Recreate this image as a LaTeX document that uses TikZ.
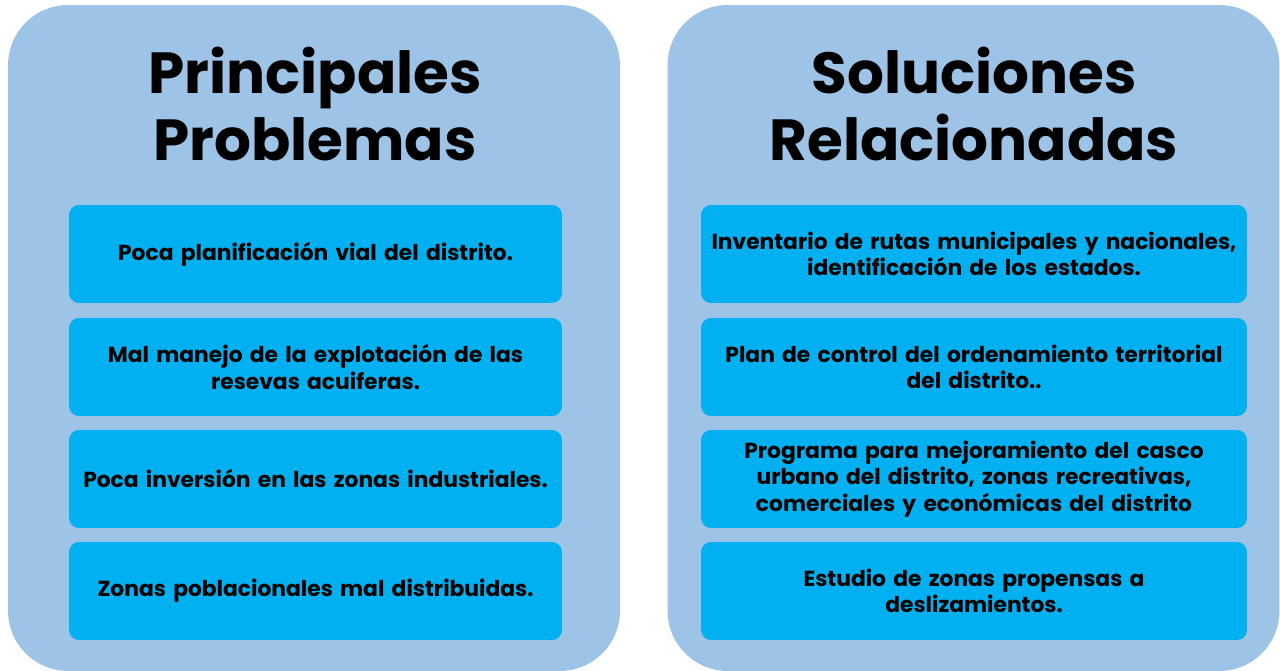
\documentclass[tikz,border=0pt]{standalone}
\usepackage{fontspec}
\setmainfont{Poppins}
\definecolor{panelblue}{HTML}{9DC3E6}
\definecolor{itemcyan}{HTML}{00B0F0}
\begin{document}
\begin{tikzpicture}[x=0.02cm, y=-0.02cm, font=\bfseries, every node/.style={outer sep=0pt},
        panel/.style={fill=panelblue, rounded corners=1.2cm, minimum width=12.24cm, minimum height=13.32cm},
        heading/.style={align=center, font=\fontsize{33}{38.5}\selectfont\bfseries},
        item/.style={fill=itemcyan, rounded corners=0.2cm, minimum height=1.96cm, inner xsep=0.1cm, align=center, font=\fontsize{12.4}{15}\selectfont\bfseries}]
        \useasboundingbox (0,0) rectangle (1280,671);
        \node[panel] (probs) at (314, 338) {};
        \node[panel] (sols) at (973.5, 338) {};
        \node[heading] (probtitle) at (315, 104) {Principales\\Problemas};
        \node[heading] (soltitle) at (974, 104) {Soluciones\\Relacionadas};

        \node[item, minimum width=9.86cm, text width=9.6cm] (p1) at (315.5, 254) {Poca planificación vial del distrito.};
        \node[item, minimum width=9.86cm, text width=9.6cm] (p2) at (315.5, 367) {Mal manejo de la explotación de las\\resevas acuiferas.};
        \node[item, minimum width=9.86cm, text width=9.6cm] (p3) at (315.5, 479) {Poca inversión en las zonas industriales.};
        \node[item, minimum width=9.86cm, text width=9.6cm] (p4) at (315.5, 591) {Zonas poblacionales mal distribuidas.};

        \node[item, minimum width=10.92cm, text width=10.7cm] (s1) at (974, 254) {Inventario de rutas municipales y nacionales,\\identificación de los estados.};
        \node[item, minimum width=10.92cm, text width=10.7cm] (s2) at (974, 367) {Plan de control del ordenamiento territorial\\del distrito..};
        \node[item, minimum width=10.92cm, text width=10.7cm] (s3) at (974, 479) {Programa para mejoramiento del casco\\urbano del distrito, zonas recreativas,\\comerciales y económicas del distrito};
        \node[item, minimum width=10.92cm, text width=10.7cm] (s4) at (974, 591) {Estudio de zonas propensas a\\deslizamientos.};
    \end{tikzpicture}
\end{document}
